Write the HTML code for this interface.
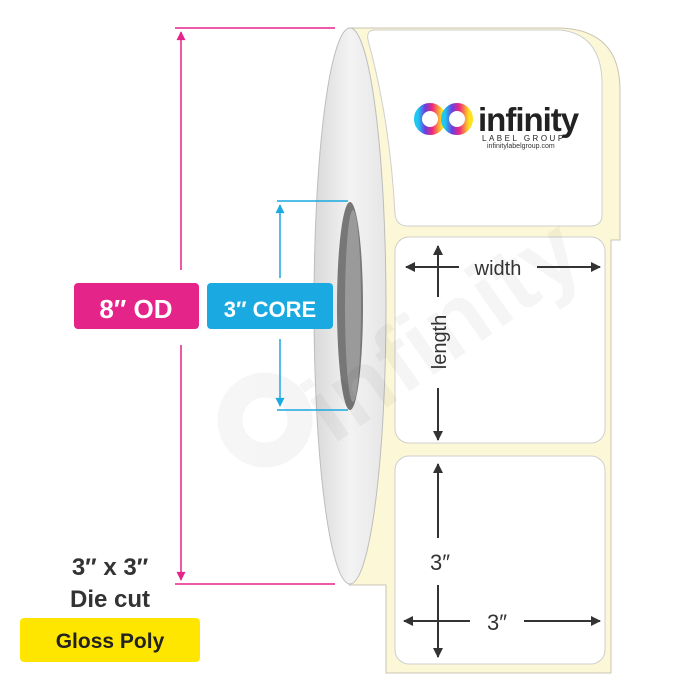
<!DOCTYPE html>
<html><head><meta charset="utf-8"><style>
html,body{margin:0;padding:0;background:#fff;}
svg{display:block;}
text{font-family:"Liberation Sans",sans-serif;}
</style></head><body>
<svg width="700" height="700" viewBox="0 0 700 700" xmlns="http://www.w3.org/2000/svg">
<defs>
<marker id="am" viewBox="0 0 10 10" refX="9" refY="5" markerWidth="7" markerHeight="6" orient="auto-start-reverse"><path d="M0,0L10,5L0,10z" fill="#e5248a"/></marker>
<marker id="ac" viewBox="0 0 10 10" refX="9" refY="5" markerWidth="7" markerHeight="6" orient="auto-start-reverse"><path d="M0,0L10,5L0,10z" fill="#1aa9e1"/></marker>
<marker id="ak" viewBox="0 0 10 10" refX="9" refY="5" markerWidth="5" markerHeight="5" orient="auto-start-reverse"><path d="M0,0L10,5L0,10z" fill="#333"/></marker>
<linearGradient id="disk" x1="0" x2="1" y1="0" y2="0"><stop offset="0" stop-color="#d9d9da"/><stop offset="0.5" stop-color="#f3f3f4"/><stop offset="1" stop-color="#e6e6e7"/></linearGradient>
<linearGradient id="logo" x1="0" x2="1"><stop offset="0" stop-color="#1ec8f0"/><stop offset="0.3" stop-color="#6a3ce0"/><stop offset="0.6" stop-color="#f0267c"/><stop offset="1" stop-color="#ffe21a"/></linearGradient>
</defs>
<!-- liner -->
<path d="M349,28 L560,28 Q620,30 620,90 L620,240 L611,240 L611,673 L386,673 L386,585 L349,585 Z" fill="#fcf7d6" stroke="#c9c6b4" stroke-width="1"/>
<path d="M375,30 L560,30 Q600,34 602,80 L602,215 Q602,226 590,226 L408,226 Q396,226 395,214 Q390,120 368,40 Q366,30 375,30 Z" fill="#fff" stroke="#cfcfcf"/>
<rect x="395" y="237" width="210" height="206" rx="14" fill="#fff" stroke="#cfcfcf"/>
<rect x="395" y="456" width="210" height="208" rx="14" fill="#fff" stroke="#cfcfcf"/>
<!-- roll side disk -->
<ellipse cx="350" cy="306" rx="36" ry="278" fill="url(#disk)" stroke="#bdbdbd"/>
<ellipse cx="350" cy="306" rx="13" ry="104" fill="#777"/>
<ellipse cx="353" cy="306" rx="8" ry="96" fill="#9a9a9a"/>
<!-- watermark -->
<g opacity="0.035">
<circle cx="265" cy="420" r="35" fill="none" stroke="#000" stroke-width="25"/>
<g transform="rotate(-35 420 360)"><text x="300" y="380" font-size="95" font-weight="bold" fill="#000">infinity</text></g>
</g>
<!-- logo -->
<circle cx="430" cy="119" r="12" fill="none" stroke="url(#logo)" stroke-width="8"/>
<circle cx="457" cy="119" r="12" fill="none" stroke="url(#logo)" stroke-width="8"/>
<text x="478" y="131" font-size="33" font-weight="bold" fill="#222" letter-spacing="-1">infinity</text>
<text x="482" y="141" font-size="8" fill="#222" letter-spacing="2.5">LABEL GROUP</text>
<text x="487" y="148" font-size="7" fill="#333">infinitylabelgroup.com</text>
<!-- OD -->
<line x1="175" y1="28" x2="335" y2="28" stroke="#e5248a" stroke-width="1.5"/>
<line x1="175" y1="584" x2="335" y2="584" stroke="#e5248a" stroke-width="1.5"/>
<line x1="181" y1="32" x2="181" y2="270" stroke="#e5248a" stroke-width="1.5" marker-start="url(#am)"/>
<line x1="181" y1="345" x2="181" y2="580" stroke="#e5248a" stroke-width="1.5" marker-end="url(#am)"/>
<rect x="74" y="283" width="125" height="46" rx="4" fill="#e5248a"/>
<text x="136" y="318" font-size="26" font-weight="bold" fill="#fff" text-anchor="middle">8″ OD</text>
<!-- Core -->
<line x1="277" y1="201" x2="348" y2="201" stroke="#1aa9e1" stroke-width="1.5"/>
<line x1="277" y1="410" x2="348" y2="410" stroke="#1aa9e1" stroke-width="1.5"/>
<line x1="280" y1="205" x2="280" y2="278" stroke="#1aa9e1" stroke-width="1.5" marker-start="url(#ac)"/>
<line x1="280" y1="339" x2="280" y2="406" stroke="#1aa9e1" stroke-width="1.5" marker-end="url(#ac)"/>
<rect x="207" y="283" width="126" height="46" rx="4" fill="#1aa9e1"/>
<text x="270" y="317" font-size="22" font-weight="bold" fill="#fff" text-anchor="middle">3″ CORE</text>
<!-- label arrows -->
<g stroke="#333" stroke-width="2">
<line x1="438" y1="246" x2="438" y2="297" marker-start="url(#ak)"/>
<line x1="438" y1="388" x2="438" y2="440" marker-end="url(#ak)"/>
<line x1="406" y1="267" x2="459" y2="267" marker-start="url(#ak)"/>
<line x1="537" y1="267" x2="600" y2="267" marker-end="url(#ak)"/>
<line x1="438" y1="464" x2="438" y2="538" marker-start="url(#ak)"/>
<line x1="438" y1="585" x2="438" y2="657" marker-end="url(#ak)"/>
<line x1="404" y1="621" x2="470" y2="621" marker-start="url(#ak)"/>
<line x1="524" y1="621" x2="600" y2="621" marker-end="url(#ak)"/>
</g>
<text x="498" y="275" font-size="20" fill="#333" text-anchor="middle">width</text>
<text transform="translate(446 342) rotate(-90)" font-size="20" fill="#333" text-anchor="middle">length</text>
<text x="440" y="570" font-size="22" fill="#333" text-anchor="middle">3″</text>
<text x="497" y="630" font-size="22" fill="#333" text-anchor="middle">3″</text>
<!-- left text -->
<text x="110" y="575" font-size="24" font-weight="bold" fill="#333" text-anchor="middle">3″ x 3″</text>
<text x="110" y="607" font-size="24" font-weight="bold" fill="#333" text-anchor="middle">Die cut</text>
<rect x="20" y="618" width="180" height="44" rx="4" fill="#ffe600"/>
<text x="110" y="648" font-size="21" font-weight="bold" fill="#222" text-anchor="middle">Gloss Poly</text>
</svg>
</body></html>
